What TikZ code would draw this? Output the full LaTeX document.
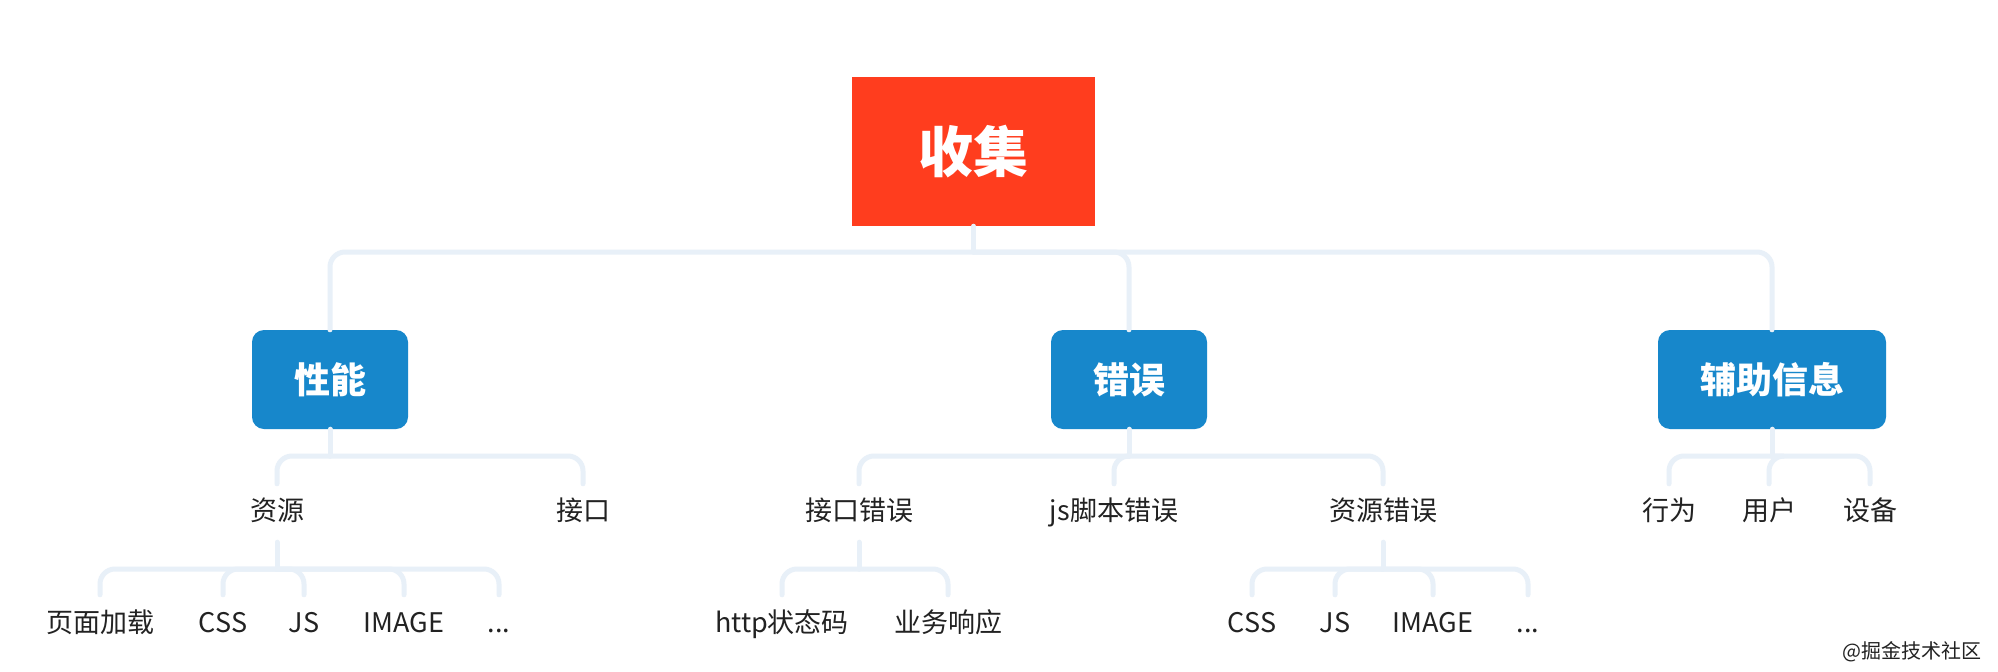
\documentclass[tikz,border=0pt]{standalone}
\usepackage{fontspec}
\setmainfont{Noto Sans CJK SC}
\definecolor{rootred}{HTML}{FF3D1E}
\definecolor{boxblue}{HTML}{1787CB}
\definecolor{linec}{HTML}{E8F0F8}
\definecolor{txt}{HTML}{222222}
\begin{document}
\begin{tikzpicture}[x=1pt,y=-1pt,
  conn/.style={draw=linec,line width=5pt,line cap=round,rounded corners=15pt},
  rootbox/.style={fill=rootred,text=white,minimum width=243pt,minimum height=149pt,inner sep=0pt,font=\fontsize{55}{62}\selectfont\bfseries},
  catbox/.style={fill=boxblue,text=white,rounded corners=12pt,minimum height=99pt,inner sep=0pt,font=\fontsize{36}{42}\selectfont\bfseries},
  lv2/.style={text=txt,inner sep=0pt,minimum height=58pt,text height=20pt,text depth=5pt,font=\fontsize{27}{32}\selectfont},
  lv3/.style={text=txt,inner sep=0pt,minimum height=60pt,text height=20pt,text depth=5pt,font=\fontsize{27}{32}\selectfont}
]
\useasboundingbox (0,0) rectangle (1998,672);
\fill[white] (0,0) rectangle (1998,672);

% nodes
\node[rootbox] (root) at (973.5,151.5) {收集};
\node[catbox,minimum width=156pt] (perf) at (330,379.5) {性能};
\node[catbox,minimum width=156pt] (err) at (1129,379.5) {错误};
\node[catbox,minimum width=228pt] (aux) at (1772,379.5) {辅助信息};

\node[lv2] (res) at (277,513) {资源};
\node[lv2] (api) at (583,513) {接口};
\node[lv2] (apierr) at (859,513) {接口错误};
\node[lv2] (jserr) at (1114,513) {js脚本错误};
\node[lv2] (reserr) at (1383,513) {资源错误};
\node[lv2] (act) at (1669,513) {行为};
\node[lv2] (user) at (1769,513) {用户};
\node[lv2] (dev) at (1870,513) {设备};

\node[lv3] (load) at (100,625) {页面加载};
\node[lv3] (css1) at (223,625) {CSS};
\node[lv3] (js1) at (304,625) {JS};
\node[lv3] (img1) at (404,625) {IMAGE};
\node[lv3] (etc1) at (499,625) {...};
\node[lv3] (http) at (782,625) {http状态码};
\node[lv3] (biz) at (948,625) {业务响应};
\node[lv3] (css2) at (1252,625) {CSS};
\node[lv3] (js2) at (1335,625) {JS};
\node[lv3] (img2) at (1433,625) {IMAGE};
\node[lv3] (etc2) at (1528,625) {...};

\node[text=txt,inner sep=0pt,font=\fontsize{20}{24}\selectfont] (wm) at (1912,652) {@掘金技术社区};

% bus levels
\coordinate (b0) at (0,252);
\coordinate (b1) at (0,456);
\coordinate (b2) at (0,569);

% root -> categories
\draw[conn] (root.south) -- (root.south |- b0);
\foreach \c in {perf,err,aux}{
  \draw[conn] (root.south |- b0) -| (\c.north);
}
% perf -> children
\draw[conn] (perf.south) -- (perf.south |- b1);
\foreach \c in {res,api}{
  \draw[conn] (perf.south |- b1) -| (\c.north);
}
% err -> children
\draw[conn] (err.south) -- (err.south |- b1);
\foreach \c in {apierr,jserr,reserr}{
  \draw[conn] (err.south |- b1) -| (\c.north);
}
% aux -> children
\draw[conn] (aux.south) -- (aux.south |- b1);
\foreach \c in {act,user,dev}{
  \draw[conn] (aux.south |- b1) -| (\c.north);
}
% res -> children
\draw[conn] (res.south) -- (res.south |- b2);
\foreach \c in {load,css1,js1,img1,etc1}{
  \draw[conn] (res.south |- b2) -| (\c.north);
}
% apierr -> children
\draw[conn] (apierr.south) -- (apierr.south |- b2);
\foreach \c in {http,biz}{
  \draw[conn] (apierr.south |- b2) -| (\c.north);
}
% reserr -> children
\draw[conn] (reserr.south) -- (reserr.south |- b2);
\foreach \c in {css2,js2,img2,etc2}{
  \draw[conn] (reserr.south |- b2) -| (\c.north);
}
\end{tikzpicture}
\end{document}
